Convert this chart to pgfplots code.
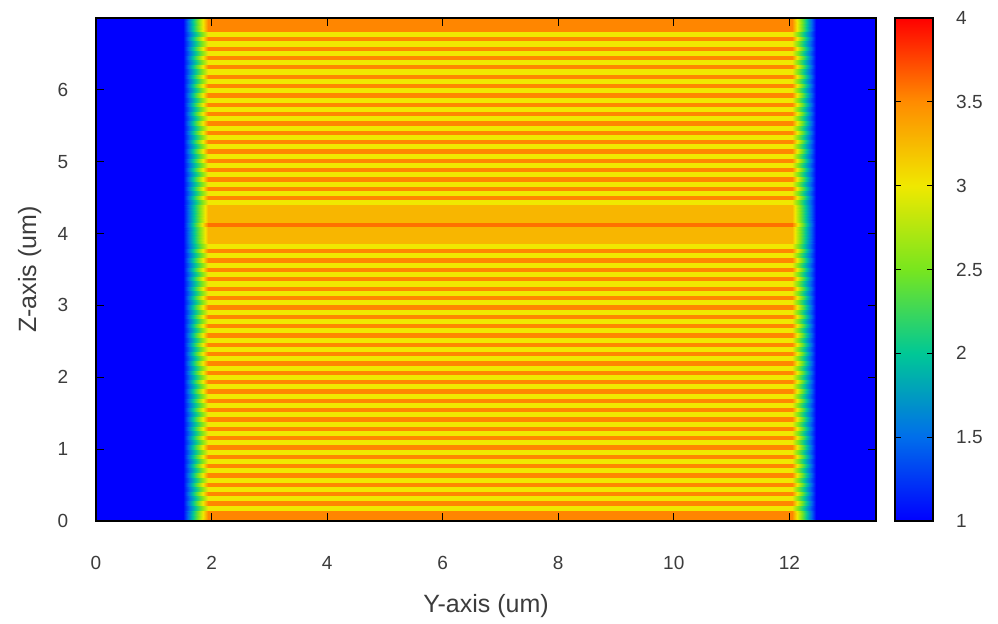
\documentclass[border=0pt]{standalone}
\usepackage{pgfplots}
\usepackage{pgfplotstable}
\pgfplotsset{compat=1.18}
\usepackage{fontspec}
\setmainfont{Liberation Sans}

% layer boundaries (um) and refractive index of each layer
\pgfplotstableread{
z0 z1 n
0.00 0.15 3.52
0.15 0.22 3.00
0.22 0.28 3.52
0.28 0.35 3.00
0.35 0.41 3.52
0.41 0.48 3.00
0.48 0.54 3.52
0.54 0.61 3.00
0.61 0.67 3.52
0.67 0.74 3.00
0.74 0.80 3.52
0.80 0.87 3.00
0.87 0.93 3.52
0.93 1.00 3.00
1.00 1.06 3.52
1.06 1.13 3.00
1.13 1.19 3.52
1.19 1.26 3.00
1.26 1.32 3.52
1.32 1.39 3.00
1.39 1.45 3.52
1.45 1.52 3.00
1.52 1.58 3.52
1.58 1.65 3.00
1.65 1.71 3.52
1.71 1.78 3.00
1.78 1.84 3.52
1.84 1.91 3.00
1.91 1.97 3.52
1.97 2.04 3.00
2.04 2.10 3.52
2.10 2.17 3.00
2.17 2.23 3.52
2.23 2.30 3.00
2.30 2.36 3.52
2.36 2.43 3.00
2.43 2.49 3.52
2.49 2.56 3.00
2.56 2.62 3.52
2.62 2.69 3.00
2.69 2.75 3.52
2.75 2.82 3.00
2.82 2.88 3.52
2.88 2.95 3.00
2.95 3.01 3.52
3.01 3.08 3.00
3.08 3.14 3.52
3.14 3.21 3.00
3.21 3.27 3.52
3.27 3.34 3.00
3.34 3.40 3.52
3.40 3.47 3.00
3.47 3.53 3.52
3.53 3.60 3.00
3.60 3.66 3.52
3.66 3.73 3.00
3.73 3.79 3.52
3.79 3.86 3.00
3.86 4.10 3.27
4.10 4.16 3.60
4.16 4.40 3.27
4.40 4.47 3.00
4.47 4.53 3.52
4.53 4.60 3.00
4.60 4.66 3.52
4.66 4.73 3.00
4.73 4.79 3.52
4.79 4.86 3.00
4.86 4.92 3.52
4.92 4.99 3.00
4.99 5.05 3.52
5.05 5.12 3.00
5.12 5.18 3.52
5.18 5.25 3.00
5.25 5.31 3.52
5.31 5.38 3.00
5.38 5.44 3.52
5.44 5.51 3.00
5.51 5.57 3.52
5.57 5.64 3.00
5.64 5.70 3.52
5.70 5.77 3.00
5.77 5.83 3.52
5.83 5.90 3.00
5.90 5.96 3.52
5.96 6.03 3.00
6.03 6.09 3.52
6.09 6.16 3.00
6.16 6.22 3.52
6.22 6.29 3.00
6.29 6.35 3.52
6.35 6.42 3.00
6.42 6.48 3.52
6.48 6.55 3.00
6.55 6.61 3.52
6.61 6.68 3.00
6.68 6.74 3.52
6.74 6.81 3.00
6.81 7.00 3.52
}\layers

\definecolor{txt}{RGB}{60,60,60}

\begin{document}
\fontsize{9.5}{11}\selectfont
\begin{tikzpicture}
\useasboundingbox (0,0) rectangle (499pt,312pt);
\begin{axis}[
  at={(48pt,51.5pt)}, anchor=south west,
  scale only axis, width=390pt, height=251.5pt,
  xmin=0, xmax=13.5, ymin=0, ymax=7,
  xtick={0,2,4,6,8,10,12}, ytick={0,1,2,3,4,5,6},
  tick align=inside, major tick length=4pt,
  axis on top,
  axis line style={black, line width=0.7pt},
  tick style={black, line width=0.6pt},
  /pgf/number format/assume math mode=true,
  ticklabel style={font=\fontsize{9.5}{11}\selectfont, text=txt},
  xticklabel style={anchor=center, yshift=-21pt},
  yticklabel style={anchor=east, xshift=-10.5pt},
  xlabel={Y-axis (um)}, ylabel={Z-axis (um)},
  label style={font=\fontsize{12.5}{14}\selectfont, text=txt},
  xlabel style={at={(axis description cs:0.5,-0.17)}, anchor=center},
  ylabel style={at={(axis description cs:-0.085,0.5)}, anchor=center, rotate=0},
  colormap={ref}{rgb255=(0,0,255) rgb255=(0,110,235) rgb255=(0,200,150) rgb255=(120,230,30) rgb255=(240,232,0) rgb255=(255,140,0) rgb255=(255,0,0)},
  point meta min=1, point meta max=4,
  colorbar,
  colorbar/width=19pt,
  colorbar style={
    at={(parent axis.north east)}, anchor=north west, xshift=1pt,
    scale only axis, width=19pt,
    ytick={1,1.5,2,2.5,3,3.5,4},
    ytick pos=both, yticklabel pos=right,
    tick align=inside, major tick length=3pt,
    axis line style={black, line width=0.7pt},
    tick style={black, line width=0.6pt},
    /pgf/number format/assume math mode=true,
    yticklabel style={font=\fontsize{9.5}{11}\selectfont, text=txt, anchor=west, xshift=8.2pt},
  },
]
\pgfplotstablegetrowsof{\layers}
\pgfmathtruncatemacro\nrows{\pgfplotsretval-1}
\pgfplotsforeachungrouped \i in {0,...,\nrows}{%
  \pgfplotstablegetelem{\i}{z0}\of\layers \let\za\pgfplotsretval
  \pgfplotstablegetelem{\i}{z1}\of\layers \pgfmathsetmacro\zb{\pgfplotsretval+0.006}%
  \pgfplotstablegetelem{\i}{n}\of\layers \let\nn\pgfplotsretval
  \edef\cmd{\noexpand\addplot[surf,shader=interp,mesh/cols=6,point meta=explicit] coordinates {(0,\za) [1] (1.50,\za) [1] (1.93,\za) [\nn] (12.04,\za) [\nn] (12.47,\za) [1] (13.5,\za) [1] (0,\zb) [1] (1.50,\zb) [1] (1.93,\zb) [\nn] (12.04,\zb) [\nn] (12.47,\zb) [1] (13.5,\zb) [1]};}%
  \cmd
}
\end{axis}
\end{tikzpicture}
\end{document}
